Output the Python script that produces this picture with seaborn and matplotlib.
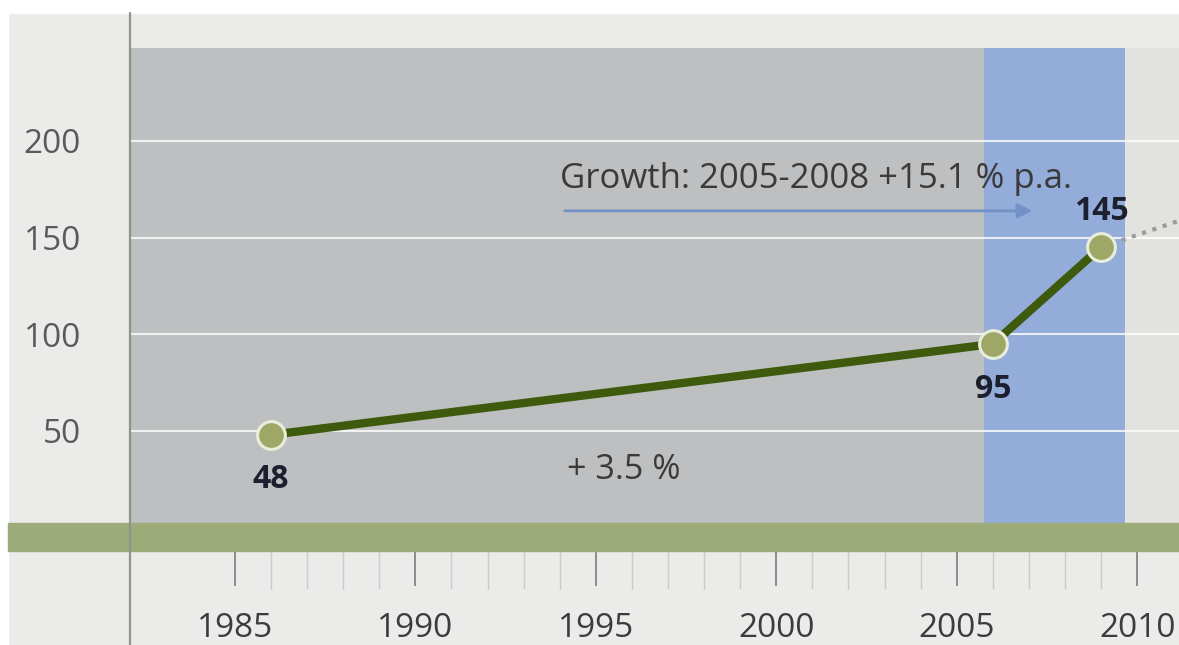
import matplotlib
matplotlib.use("Agg")
import matplotlib.pyplot as plt
from matplotlib.patches import Rectangle
from matplotlib.lines import Line2D
import seaborn as sns
import pandas as pd

# Market volume at the three reference points
years = [1986, 2006, 2009]
values = [48, 95, 145]
value_labels = ["48", "95", "145"]

# Dotted outlook continuing from the last value
outlook_years = [2009, 2012]
outlook_values = [145, 164]

y_ticks = [50, 100, 150, 200]
x_major = [1985, 1990, 1995, 2000, 2005, 2010]
x_minor = list(range(1985, 2011))

growth_text = "Growth: 2005-2008 +15.1 % p.a."
long_run_text = "+ 3.5 %"

W, H = 1179, 645
sns.set_theme(style="white")
plt.rcParams["font.family"] = ["Open Sans", "DejaVu Sans"]

fig = plt.figure(figsize=(W / 100, H / 100), dpi=100, facecolor="#ebebea")
fig.patches.append(Rectangle((0, 1 - 13 / H), 1, 13 / H, transform=fig.transFigure,
                             color="white", zorder=0))
fig.patches.append(Rectangle((0, 0), 8 / W, 1, transform=fig.transFigure,
                             color="white", zorder=0))

ax_left, ax_top, ax_bottom = 131, 48, 551
ax = fig.add_axes([ax_left / W, (H - ax_bottom) / H, (W - ax_left) / W,
                   (ax_bottom - ax_top) / H])
ax.set_xlim(1982.12, 2011.16)
ax.set_ylim(-12.05, 248)
ax.set_facecolor("#e2e2df")
for s in ax.spines.values():
    s.set_visible(False)

# Background periods
ax.axvspan(1982.12, 2005.75, color="#bdbfc1", lw=0, zorder=0)
ax.axvspan(2005.75, 2009.65, color="#93acd9", lw=0, zorder=0)

# Horizontal guides
for v in y_ticks:
    ax.axhline(v, color="white", lw=1.5, alpha=0.8, zorder=1)

# Outlook and main series
sns.lineplot(x=outlook_years, y=outlook_values, ax=ax, color="#9c9c9c", lw=3,
             linestyle=(0, (1, 1.6)), zorder=4)
sns.lineplot(x=years, y=values, ax=ax, color="#3e5a0c", lw=6, marker="o",
             markersize=20, markerfacecolor="#9ea765", markeredgecolor="#e9eddb",
             markeredgewidth=2.2, zorder=5)

offsets = [(0, -32), (0, -33), (0, 26)]
for x, y, lab, off in zip(years, values, value_labels, offsets):
    ax.annotate(lab, (x, y), xytext=off, textcoords="offset points",
                ha="center", va="center", fontsize=23, fontweight="bold",
                color="#1c1f2e", zorder=6)

# Growth annotations
ax.annotate("", xy=(2007.17, 163.8), xytext=(1994.06, 163.8),
            arrowprops=dict(arrowstyle="-|>", color="#7391c6", lw=2,
                            mutation_scale=22), zorder=3)
ax.text(1994.0, 180.5, growth_text, ha="left", va="center", fontsize=25,
        color="#3a3a3a", zorder=3)
ax.text(1994.2, 29.9, long_run_text, ha="left", va="center", fontsize=24.5,
        color="#3a3a3a", zorder=3)

# Axes ticks
ax.set_yticks(y_ticks)
ax.set_yticklabels([str(v) for v in y_ticks])
ax.tick_params(axis="y", left=False, length=0, pad=36, labelsize=24,
               labelcolor="#5a5a5a")
ax.set_xticks(x_major)
ax.set_xticks(x_minor, minor=True)
ax.set_xticklabels([str(v) for v in x_major])
ax.tick_params(axis="x", which="major", bottom=True, direction="out", length=25,
               width=1.3, color="#858585", pad=19, labelsize=24, labelcolor="#3c3c3c")
ax.tick_params(axis="x", which="minor", bottom=True, direction="out", length=27,
               width=1.0, color="#cbcbcb")
ax.grid(False)

# Baseline band running across the full width
fig.patches.append(Rectangle((8 / W, (H - 551) / H), 1 - 8 / W, 28 / H,
                             transform=fig.transFigure, color="#9dab78", zorder=2))
# Vertical axis line
fig.add_artist(Line2D([130 / W, 130 / W], [0, 1 - 13 / H], transform=fig.transFigure,
                      color="#8f9488", lw=1.6, zorder=3))

fig.savefig("out.png", dpi=100, facecolor=fig.get_facecolor())
